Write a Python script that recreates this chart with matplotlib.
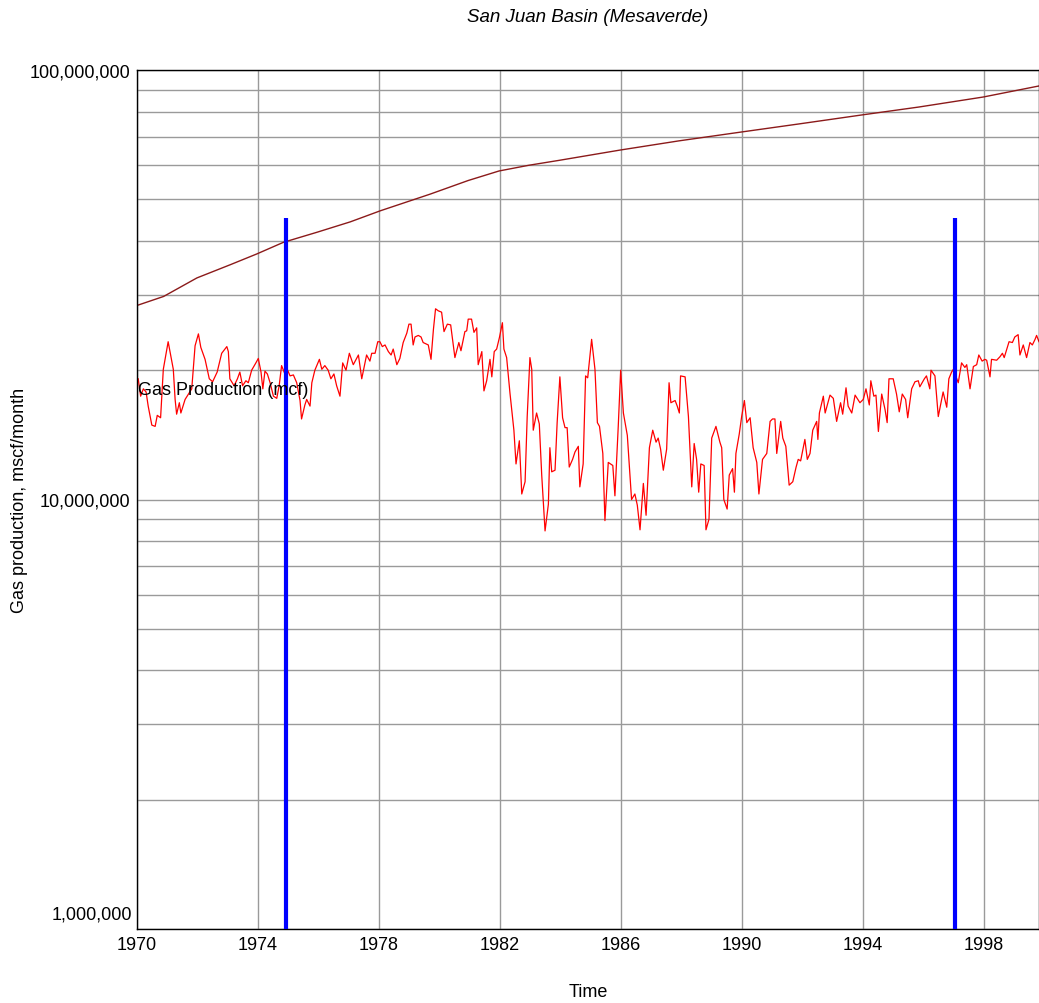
import matplotlib
matplotlib.use("Agg")
import matplotlib.pyplot as plt
from matplotlib.ticker import FixedLocator, FuncFormatter, NullFormatter
import numpy as np

plt.rcParams['font.family'] = ['Liberation Sans', 'DejaVu Sans']

title = "San Juan Basin (Mesaverde)"
xlabel = "Time"
ylabel = "Gas production, mscf/month"
series_label = "Gas Production (mcf)"

# Monthly gas production (millions of mcf), time as years since 1970
prod_t = [0.04, 0.12, 0.21, 0.30, 0.37, 0.49, 0.60, 0.67, 0.78, 0.87, 1.03, 1.20, 1.26, 1.31, 1.40,
          1.45, 1.59, 1.70, 1.81, 1.92, 2.03, 2.11, 2.25, 2.39, 2.50, 2.65, 2.80, 2.97, 3.02, 3.07,
          3.21, 3.32, 3.40, 3.49, 3.60, 3.68, 3.79, 3.93, 4.01, 4.10, 4.16, 4.23, 4.31, 4.40, 4.51,
          4.62, 4.70, 4.78, 4.89, 4.98, 5.06, 5.17, 5.28, 5.39, 5.44, 5.55, 5.61, 5.72, 5.78, 5.88,
          6.03, 6.11, 6.21, 6.32, 6.41, 6.51, 6.60, 6.71, 6.80, 6.91, 7.02, 7.15, 7.32, 7.43, 7.59,
          7.70, 7.76, 7.87, 7.96, 8.03, 8.11, 8.20, 8.31, 8.40, 8.47, 8.59, 8.69, 8.80, 8.92, 8.99,
          9.06, 9.13, 9.19, 9.30, 9.39, 9.46, 9.63, 9.72, 9.80, 9.87, 9.96, 10.07, 10.15, 10.26, 10.37,
          10.51, 10.64, 10.71, 10.84, 10.90, 10.95, 11.06, 11.14, 11.23, 11.28, 11.40, 11.47, 11.56, 11.67, 11.73,
          11.81, 11.89, 11.98, 12.08, 12.13, 12.22, 12.33, 12.46, 12.53, 12.64, 12.72, 12.83, 12.90, 12.99, 13.05,
          13.10, 13.21, 13.30, 13.38, 13.49, 13.60, 13.65, 13.71, 13.82, 13.89, 13.98, 14.07, 14.15, 14.22, 14.29,
          14.40, 14.48, 14.59, 14.64, 14.75, 14.83, 14.90, 15.03, 15.14, 15.22, 15.29, 15.40, 15.47, 15.58, 15.73,
          15.80, 15.91, 15.99, 16.08, 16.21, 16.35, 16.46, 16.54, 16.63, 16.74, 16.83, 16.94, 17.05, 17.16, 17.23,
          17.31, 17.40, 17.51, 17.59, 17.65, 17.79, 17.86, 17.93, 17.97, 18.12, 18.23, 18.34, 18.42, 18.50, 18.57,
          18.64, 18.75, 18.81, 18.91, 19.00, 19.14, 19.27, 19.33, 19.40, 19.51, 19.58, 19.69, 19.75, 19.80, 19.91,
          19.99, 20.08, 20.16, 20.27, 20.37, 20.49, 20.56, 20.68, 20.82, 20.93, 21.01, 21.09, 21.15, 21.28, 21.35,
          21.45, 21.56, 21.68, 21.79, 21.86, 21.94, 22.08, 22.16, 22.25, 22.34, 22.47, 22.51, 22.56, 22.69, 22.75,
          22.91, 23.02, 23.13, 23.26, 23.33, 23.44, 23.51, 23.63, 23.74, 23.90, 24.01, 24.10, 24.21, 24.26, 24.36,
          24.43, 24.51, 24.62, 24.73, 24.80, 24.86, 25.00, 25.11, 25.20, 25.30, 25.41, 25.48, 25.61, 25.72, 25.83,
          25.88, 26.03, 26.10, 26.21, 26.25, 26.38, 26.49, 26.65, 26.77, 26.84, 26.93, 26.99, 27.07, 27.15, 27.26,
          27.37, 27.43, 27.54, 27.65, 27.76, 27.83, 27.94, 28.03, 28.09, 28.20, 28.25, 28.42, 28.53, 28.61, 28.67,
          28.83, 28.94, 29.02, 29.13, 29.19, 29.30, 29.41, 29.52, 29.60, 29.69, 29.74, 29.82]
prod_mm = [19.1, 17.4, 18.1, 17.8, 16.5, 14.9, 14.8, 15.7, 15.5, 20.1, 23.3, 20.1, 17.1, 15.8, 16.8,
           15.9, 17.1, 17.6, 18.1, 22.8, 24.3, 22.6, 21.2, 19.1, 18.8, 19.8, 21.9, 22.7, 22.1, 19.1,
           18.4, 19.1, 19.8, 18.4, 18.9, 18.7, 20.0, 20.8, 21.3, 19.8, 18.1, 19.9, 19.6, 18.7, 17.4,
           17.2, 18.4, 20.5, 19.6, 20.0, 19.4, 19.5, 18.7, 17.0, 15.4, 16.6, 17.1, 16.5, 18.7, 20.0,
           21.2, 20.1, 20.5, 20.0, 19.1, 19.6, 18.4, 17.4, 20.8, 20.0, 21.9, 20.6, 21.7, 19.1, 21.7,
           21.0, 21.9, 21.9, 23.3, 23.3, 22.7, 22.9, 22.1, 21.7, 22.4, 20.6, 21.3, 23.2, 24.4, 25.6,
           25.6, 22.9, 23.9, 24.1, 23.9, 23.2, 22.9, 21.2, 24.9, 27.8, 27.5, 27.3, 24.6, 25.6, 25.5,
           21.4, 23.2, 22.2, 24.6, 24.7, 26.3, 26.3, 24.5, 25.1, 20.6, 22.1, 17.9, 18.9, 21.2, 19.3,
           22.1, 22.4, 23.8, 25.8, 22.4, 21.4, 17.7, 14.5, 12.1, 13.7, 10.3, 11.0, 15.6, 21.4, 20.1,
           14.5, 15.9, 15.0, 11.4, 8.45, 9.75, 13.2, 11.6, 11.7, 15.1, 19.3, 15.5, 14.7, 14.7, 11.9,
           12.4, 12.9, 13.3, 10.7, 12.1, 19.4, 19.2, 23.6, 20.1, 15.1, 14.8, 12.8, 8.93, 12.2, 12.0,
           10.2, 14.8, 20.0, 15.9, 14.1, 10.0, 10.3, 9.7, 8.5, 10.9, 9.19, 13.2, 14.5, 13.6, 13.9,
           13.1, 11.7, 13.1, 18.7, 16.8, 17.0, 16.5, 15.9, 19.4, 19.3, 15.6, 10.7, 13.5, 12.4, 10.4,
           12.1, 12.0, 8.5, 9.0, 13.9, 14.8, 13.6, 13.2, 10.0, 9.5, 11.4, 11.8, 10.4, 12.8, 14.2,
           15.6, 17.0, 15.1, 15.5, 13.2, 12.2, 10.3, 12.4, 12.8, 15.2, 15.4, 15.4, 12.8, 15.2, 13.9,
           13.3, 10.8, 11.0, 11.9, 12.4, 12.3, 13.8, 12.4, 12.8, 14.5, 15.2, 13.8, 15.9, 17.4, 15.9,
           17.5, 17.2, 15.2, 16.8, 15.8, 18.2, 16.5, 15.9, 17.5, 16.8, 17.1, 18.1, 16.6, 18.9, 17.4,
           17.5, 14.4, 17.6, 16.2, 15.1, 19.1, 19.1, 17.6, 16.0, 17.6, 17.1, 15.5, 18.1, 18.8, 18.9,
           18.3, 19.1, 19.4, 18.1, 20.0, 19.4, 15.6, 17.8, 16.4, 19.1, 19.8, 20.1, 19.4, 18.7, 20.8,
           20.3, 20.6, 18.1, 20.4, 20.6, 21.7, 21.0, 21.2, 21.1, 19.3, 21.2, 21.1, 21.5, 21.9, 21.4,
           23.3, 23.2, 23.9, 24.2, 21.7, 22.9, 21.4, 23.2, 22.9, 23.6, 24.1, 23.3]

# Upper dark-red curve (millions), time as years since 1970
upper_t = [0.0, 0.88, 1.98, 3.08, 3.96, 4.84, 5.95, 7.05, 8.04, 9.69, 10.95, 11.97, 12.95, 13.95,
           15.97, 17.92, 19.97, 21.89, 23.97, 25.85, 27.97, 29.82]
upper_mm = [28.3, 29.7, 32.8, 35.2, 37.3, 39.7, 41.9, 44.3, 47.0, 51.4, 55.3, 58.2, 60.0, 61.6,
            65.1, 68.4, 71.7, 74.9, 78.6, 82.0, 86.5, 91.8]

# Blue vertical markers (year, top value in millions)
marker_years = [1974.93, 1997.04]
marker_top_mm = 45.2

x_ticks = [1970, 1974, 1978, 1982, 1986, 1990, 1994, 1998]
y_major = [1e6, 1e7, 1e8]

FS = 13

W, H = 1039, 1004
fig = plt.figure(figsize=(W / 100, H / 100), dpi=100)
ax = fig.add_axes([137 / W, 1 - 930 / H, (1039 - 137) / W, (930 - 71) / H])

ax.set_yscale('log')
ax.set_ylim(1e6, 1e8)
ax.set_xlim(1970, 1970 + 29.82)

minor = [m * d for d in (1e6, 1e7) for m in range(2, 10)]
ax.yaxis.set_major_locator(FixedLocator(y_major))
ax.yaxis.set_minor_locator(FixedLocator(minor))
ax.yaxis.set_minor_formatter(NullFormatter())
ax.yaxis.set_major_formatter(FuncFormatter(
    lambda v, p: "" if v <= y_major[0] * 1.01 else f"{int(round(v)):,}"))
ax.xaxis.set_major_locator(FixedLocator(x_ticks))
ax.xaxis.set_major_formatter(FuncFormatter(lambda v, p: f"{int(v)}"))

# bottom y label sits slightly above the axis bottom, as in the reference
ax.annotate(f"{int(y_major[0]):,}", xy=(0, y_major[0]), xycoords=('axes fraction', 'data'),
            xytext=(-5, 15), textcoords='offset pixels', ha='right', va='center',
            fontsize=FS, annotation_clip=False)

ax.grid(True, which='both', axis='y', color='#9a9a9a', linewidth=1.0)
ax.grid(True, which='major', axis='x', color='#9a9a9a', linewidth=1.0)
ax.set_axisbelow(True)
ax.tick_params(which='both', length=0, labelsize=FS, pad=5)
for s in ax.spines.values():
    s.set_color('black')
    s.set_linewidth(1.0)

t_prod = 1970 + np.array(prod_t)
ax.plot(t_prod, np.array(prod_mm) * 1e6, color='red', linewidth=0.9)
t_up = 1970 + np.array(upper_t)
ax.plot(t_up, np.array(upper_mm) * 1e6, color='#8b1a1a', linewidth=1.0)

for yr in marker_years:
    ax.plot([yr, yr], [1e6, marker_top_mm * 1e6], color='blue', linewidth=3.0,
            solid_capstyle='butt', zorder=5)

ax.text(1970.03, 1.8e7, series_label, fontsize=FS, va='center', ha='left', color='black', zorder=6)

fig.text((137 + 1039) / 2 / W, 1 - 17 / H, title, fontsize=FS + 0.5, style='italic',
         ha='center', va='center')
fig.text((137 + 1039) / 2 / W, 1 - 993 / H, xlabel, fontsize=FS, ha='center', va='center')
fig.text(20 / W, 1 - 500 / H, ylabel, fontsize=FS, rotation=90, ha='center', va='center')

fig.savefig("out.png", dpi=100)
